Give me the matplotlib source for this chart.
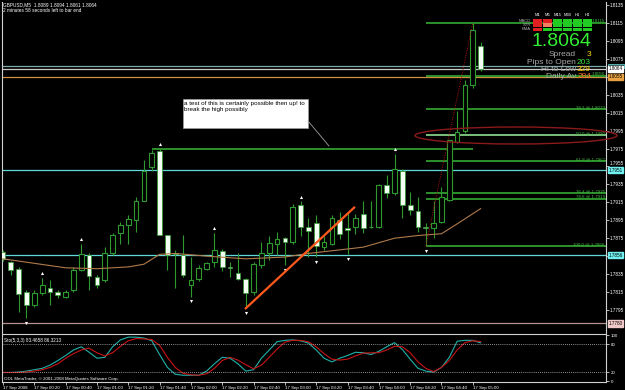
import matplotlib
matplotlib.use("Agg")
import matplotlib.pyplot as plt
from matplotlib.patches import Rectangle, Ellipse
from matplotlib.transforms import offset_copy
import numpy as np

plt.rcParams['font.family'] = ['Liberation Sans', 'DejaVu Sans']

# ---- GBPUSD M5 candles, 17 Sep 2008 ----
opens = [1.7860, 1.7848, 1.7841, 1.7815, 1.7801, 1.7814, 1.7820, 1.7815, 1.7810, 1.7817,
         1.7839, 1.7856, 1.7832, 1.7828, 1.7858, 1.7881, 1.7890, 1.7895, 1.7917, 1.7954,
         1.7972, 1.7879, 1.7859, 1.7856, 1.7823, 1.7829, 1.7841, 1.7848, 1.7861, 1.7843,
         1.7836, 1.7829, 1.7815, 1.7845, 1.7858, 1.7868, 1.7875, 1.7871, 1.7912, 1.7887,
         1.7892, 1.7865, 1.7869, 1.7895, 1.7886, 1.7887, 1.7902, 1.7887, 1.7888, 1.7934,
         1.7925, 1.7950, 1.7912, 1.7905, 1.7888, 1.7886, 1.7893, 1.7918, 1.7982, 1.7994,
         1.8046, 1.8089]
highs = [1.7862, 1.7850, 1.7843, 1.7817, 1.7817, 1.7831, 1.7828, 1.7817, 1.7817, 1.7843,
         1.7869, 1.7858, 1.7834, 1.7865, 1.7881, 1.7893, 1.7901, 1.7921, 1.7962, 1.7973,
         1.7975, 1.7879, 1.7862, 1.7879, 1.7854, 1.7845, 1.7849, 1.7881, 1.7863, 1.7848,
         1.7858, 1.7831, 1.7849, 1.7871, 1.7877, 1.7882, 1.7876, 1.7913, 1.7916, 1.7898,
         1.7901, 1.7877, 1.7901, 1.7904, 1.7904, 1.7902, 1.7916, 1.7916, 1.7936, 1.7946,
         1.7969, 1.7952, 1.7927, 1.7921, 1.7892, 1.7916, 1.7932, 1.7985, 1.8017, 1.8051,
         1.8115, 1.8094]
lows = [1.7850, 1.7834, 1.7793, 1.7786, 1.7798, 1.7812, 1.7801, 1.7808, 1.7808, 1.7815,
        1.7838, 1.7817, 1.7820, 1.7826, 1.7856, 1.7869, 1.7869, 1.7882, 1.7916, 1.7950,
        1.7879, 1.7839, 1.7819, 1.7832, 1.7810, 1.7827, 1.7839, 1.7843, 1.7838, 1.7832,
        1.7828, 1.7797, 1.7812, 1.7842, 1.7851, 1.7856, 1.7845, 1.7869, 1.7877, 1.7854,
        1.7854, 1.7862, 1.7867, 1.7874, 1.7857, 1.7880, 1.7881, 1.7886, 1.7886, 1.7920,
        1.7923, 1.7897, 1.7901, 1.7882, 1.7866, 1.7875, 1.7892, 1.7917, 1.7981, 1.7992,
        1.8042, 1.8061]
closes = [1.7852, 1.7839, 1.7813, 1.7800, 1.7814, 1.7823, 1.7815, 1.7812, 1.7815, 1.7840,
          1.7857, 1.7833, 1.7823, 1.7859, 1.7879, 1.7890, 1.7896, 1.7917, 1.7950, 1.7970,
          1.7879, 1.7856, 1.7857, 1.7834, 1.7828, 1.7842, 1.7847, 1.7862, 1.7843, 1.7842,
          1.7830, 1.7814, 1.7846, 1.7859, 1.7870, 1.7874, 1.7871, 1.7910, 1.7887, 1.7883,
          1.7866, 1.7871, 1.7898, 1.7880, 1.7884, 1.7898, 1.7886, 1.7888, 1.7934, 1.7925,
          1.7952, 1.7912, 1.7906, 1.7887, 1.7886, 1.7892, 1.7921, 1.7984, 1.7993, 1.8046,
          1.8107, 1.8064]

# moving average read at a few bars
ma_idx = [0, 4, 8, 12, 16, 18, 20, 22, 26, 31, 36, 39, 43, 46, 50, 53, 56, 58, 61]
ma_val = [1.7852, 1.7847, 1.7842, 1.7841, 1.7843, 1.7846, 1.7857, 1.7858, 1.7855, 1.7852,
          1.7854, 1.7858, 1.7862, 1.7865, 1.7875, 1.7878, 1.7880, 1.7891, 1.7908]

# stochastic (5,3,3)
sto_main = [19, 19, 20, 22, 25, 28, 35, 45, 56, 68, 75, 63, 50, 52, 75, 90, 96, 96, 94, 88,
            58, 30, 15, 13, 13, 13, 22, 38, 52, 50, 38, 22, 25, 50, 68, 86, 89, 90, 88, 83,
            68, 50, 42, 50, 56, 63, 62, 58, 65, 75, 84, 69, 48, 28, 22, 20, 30, 52, 87, 89,
            89, 83.47]
sto_sig = [19, 19, 19, 20, 22, 25, 30, 38, 50, 60, 68, 72, 62, 55, 62, 76, 88, 93, 92, 91,
           78, 52, 30, 17, 14, 13, 16, 28, 45, 52, 46, 36, 27, 35, 52, 70, 85, 89, 89, 86,
           75, 60, 48, 46, 48, 55, 61, 62, 62, 68, 76, 75, 62, 42, 28, 21, 30, 45, 68, 84,
           88, 86.32]

frac_up = [5, 10, 20, 27, 38, 50]
frac_dn = [3, 24, 31, 36, 40, 44, 54]

fib_levels = [1.8115, 1.8056, 1.8019, 1.7990, 1.7961, 1.7925, 1.7919, 1.7866]
fib_labels = ['1.8115', '1.8056', '38.2 @ 1.8019', '50.0 @ 1.7990', '61.8 @ 1.7961',
              '76.4 @ 1.7925', '78.6 @ 1.7919', '100.0 @ 1.7866']
fib_start, fib_hi_bar = 54, 60

prev_high, prev_high_from, prev_high_to = 1.7975, 19, 60
trend_x = [30.9, 44.95]
trend_y = [1.7796, 1.7910]

price_ticks = np.arange(1.7795, 1.8136, 0.0020)
hidden_ticks = ['1.8055', '1.7855']   # covered by the line boxes
raised_ticks = ['1.7955']             # pushed up by the 1.7951 box
time_idx = list(range(0, 61, 4))
time_labels = ['17 Sep 2008', '17 Sep 00:20', '17 Sep 00:40', '17 Sep 01:00', '17 Sep 01:20',
               '17 Sep 01:40', '17 Sep 02:00', '17 Sep 02:20', '17 Sep 02:40', '17 Sep 03:00',
               '17 Sep 03:20', '17 Sep 03:40', '17 Sep 04:00', '17 Sep 04:20', '17 Sep 04:40',
               '17 Sep 05:00']

ask_price = 1.8067
# horizontal lines across the whole chart: price, line colour, box colour, box text
hlines = [(1.8064, '#c8c8c8', '#ffffff', '1.8064'),
          (1.8055, '#d09040', '#e8a040', '1.8055'),
          (1.7951, '#60d8d8', '#70f0f0', '1.7951'),
          (1.7856, '#60d8d8', '#70f0f0', '1.7856'),
          (1.7780, '#b89090', '#f0c8c8', '1.7780')]

tf_names = ['M1', 'M5', 'M15', 'M30', 'H1', 'H4']
row_names = ['MACD', 'STR', 'EMA']
macd_state = ['r', 'r', 'g', 'g', 'g', 'g']
str_state = ['r', 'o', 'g', 'g', 'g', 'g']
ema_state = ['r', 'g', 'g', 'g', 'g', 'g']
info_names = ['Spread', 'Pips to Open', 'Hi to Low', 'Daily Av']
info_vals = ['3', '203', '329', '284']
info_cols = ['#ffd700', '#33dd33', '#ffcc00', '#ff6a20']

# ---- figure ----
W, H = 625, 390
fig = plt.figure(figsize=(W / 100, H / 100), dpi=100, facecolor='black')


def rect(x0, y0, x1, y1):
    return [x0 / W, 1 - y1 / H, (x1 - x0) / W, (y1 - y0) / H]


green = '#2e9a2e'
ax = fig.add_axes(rect(2, 2, 606, 333), facecolor='black')
st = fig.add_axes(rect(2, 334, 606, 382), facecolor='black')

idx = np.arange(len(opens))
o, h, l, c = (np.array(v) for v in (opens, highs, lows, closes))
bull = c >= o
ax.vlines(idx, l, h, color=green, lw=0.8, zorder=3)
body = np.maximum(np.abs(c - o), 0.00004)
ax.bar(idx[bull], body[bull], bottom=o[bull], width=0.6, facecolor='black',
       edgecolor=green, lw=0.8, zorder=4)
ax.bar(idx[~bull], body[~bull], bottom=c[~bull], width=0.6, facecolor='#f4fff4',
       edgecolor=green, lw=0.5, zorder=4)

xmin, xmax = -0.128, 77.01
ax.set_xlim(xmin, xmax)
ax.set_ylim(1.77693, 1.81384)

ax.axhline(ask_price, color='#7fa8a8', lw=0.9, zorder=2)
for p, lc, bc, lab in hlines:
    ax.axhline(p, color=lc, lw=0.9, zorder=2)

ax.plot(ma_idx, ma_val, color='#b07a4a', lw=0.8, zorder=5)

up_tr = offset_copy(ax.transData, fig=fig, y=4.5, units='dots')
dn_tr = offset_copy(ax.transData, fig=fig, y=-4.5, units='dots')
ax.scatter(frac_up, h[frac_up], marker='^', s=5, color='white', transform=up_tr, zorder=6, lw=0)
ax.scatter(frac_dn, l[frac_dn], marker='v', s=5, color='white', transform=dn_tr, zorder=6, lw=0)

ax.hlines(prev_high, prev_high_from, prev_high_to, color='#33aa33', lw=1.2, zorder=2)
ax.plot(trend_x, trend_y, color='#ff5a1e', lw=1.6, zorder=6, solid_capstyle='butt')

for lev, lab in zip(fib_levels, fib_labels):
    col = '#8fe08f' if lab.startswith('50.0') else '#33aa33'
    ax.hlines(lev, fib_start, xmax, color=col, lw=1.2, zorder=2)
    ax.text(xmax - 0.15, lev, lab, color='#44bb44', fontsize=3.2, ha='right', va='bottom', zorder=7)
ax.plot([fib_start, fib_hi_bar], [fib_levels[-1], fib_levels[0]], color='#b01010',
        lw=0.7, ls=(0, (1, 1.5)), zorder=6)

ax.yaxis.tick_right()
ax.set_yticks(price_ticks)
ax.set_yticklabels(['' if '%.4f' % p in hidden_ticks else '%.4f' % p for p in price_ticks])
ax.tick_params(axis='y', colors='white', length=2, width=0.5, labelsize=3.3, pad=1)
ax.tick_params(axis='x', bottom=False, labelbottom=False)
for lab in ax.get_yticklabels():
    if lab.get_text() in raised_ticks:
        lab.set_va('bottom')
for s in ['top', 'bottom']:
    ax.spines[s].set_visible(False)
for s in ['left', 'right']:
    ax.spines[s].set_color('#d0d0d0')
    ax.spines[s].set_linewidth(0.8)

ytr = ax.get_yaxis_transform()
# ask marker: small cyan box peeking above the bid box
ax.add_patch(Rectangle((1.003, ask_price - 0.0002), 0.026, 0.0004, transform=ytr,
                       fc='#1a3a3a', ec='#60c8c8', lw=0.6, clip_on=False, zorder=9))
for p, lc, bc, lab in hlines:
    ax.text(1.004, p, lab, transform=ytr, fontsize=3.3, color='black', ha='left', va='center',
            bbox=dict(boxstyle='square,pad=0.15', fc=bc, ec=bc), clip_on=False, zorder=10)

# ---- stochastic ----
st.plot(idx, sto_main, color='#20b2aa', lw=0.8)
st.plot(idx, sto_sig, color='#c81414', lw=0.8)
for lv in (80, 20):
    st.axhline(lv, color='#c0c0c0', lw=0.6, ls=(0, (1, 1.5)))
st.set_xlim(xmin, xmax)
st.set_ylim(-1.74, 102.8)
st.yaxis.tick_right()
st.set_yticks([0, 20, 80, 100])
st.set_yticklabels(['0', '20', '80', '100'])
st.set_xticks(time_idx)
st.set_xticklabels(time_labels, ha='left')
st.tick_params(colors='white', length=2, width=0.5, labelsize=3.2, pad=1.2)
for s in st.spines.values():
    s.set_color('#d0d0d0')
    s.set_linewidth(0.8)
st.text(0.003, 0.86, 'Sto(5,3,3) 83.4658 86.3213', transform=st.transAxes, color='white',
        fontsize=3.3, va='center')
st.text(0.003, 0.07, 'ODL MetaTrader, \u00a9 2001-2008 MetaQuotes Software Corp.',
        transform=st.transAxes, color='white', fontsize=3.2, va='center')

# ---- overlay in pixel units ----
ov = fig.add_axes([0, 0, 1, 1])
ov.set_xlim(0, W)
ov.set_ylim(H, 0)
ov.axis('off')
ov.patch.set_alpha(0)

ov.text(3, 5, 'GBPUSD,M5  1.8089 1.8094 1.8061 1.8064', color='white', fontsize=3.4, va='center')
ov.text(3, 11, '2 minutes 58 seconds left to bar end', color='white', fontsize=3.4, va='center')

ov.add_patch(Rectangle((183, 99), 125, 29, fc='white', ec='#a0a0a0', lw=0.5))
ov.text(184.5, 101, 'a test of this is certainly possible then up! to\nbreak the high possibly',
        color='black', fontsize=4.5, va='top', ha='left', linespacing=1.25)
ov.plot([308, 329], [121, 146], color='#a0a0a0', lw=0.6)

ov.add_patch(Ellipse((516, 135.5), 202, 17, fill=False, ec='#8b1a1a', lw=1.0))

state_col = {'r': '#e02020', 'o': '#f08060', 'g': '#22cc22'}
for k, name in enumerate(tf_names):
    ov.text(537.5 + 10 * k, 15, name, color='white', fontsize=3.0, ha='center', va='center')
for r, (rname, states) in enumerate(zip(row_names, [macd_state, str_state, ema_state])):
    ov.text(531, 21 + 4.1 * r, rname, color='#b0b0b0', fontsize=3.0, ha='right', va='center')
    for k, s in enumerate(states):
        ov.add_patch(Rectangle((533 + 10 * k, 19.3 + 4.1 * r), 9, 3.4, fc=state_col[s], ec='none'))

ov.text(591, 41, '1.8064', color='#33ee33', fontsize=14, ha='right', va='center')
for r, (nm, val, vc) in enumerate(zip(info_names, info_vals, info_cols)):
    y = 55 + 7.2 * r
    ov.text(576, y, nm, color='#a8a8a8', fontsize=6, ha='right', va='center')
    ov.text(591, y, val, color=vc, fontsize=6, ha='right', va='center')

fig.savefig('out.png', dpi=100, facecolor='black')
